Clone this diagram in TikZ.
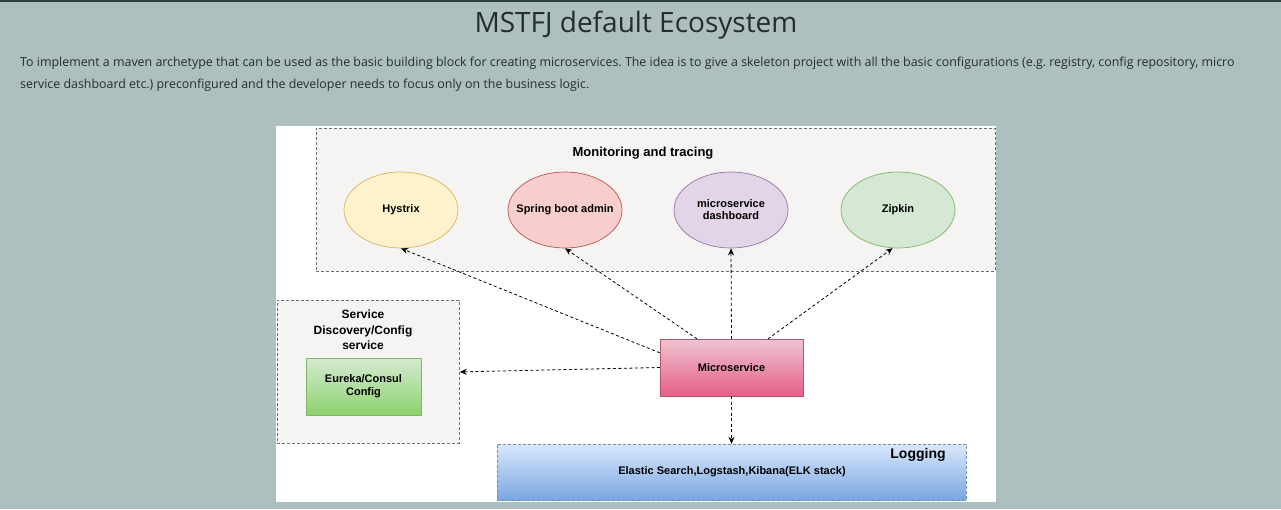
\documentclass[tikz,border=0pt]{standalone}
\usepackage{fontspec}
\setmainfont{Liberation Sans}
\newfontfamily\pagefont{Open Sans}
\usetikzlibrary{shapes.geometric,arrows.meta}

\definecolor{pagebg}{HTML}{AEBFBF}
\definecolor{topbar}{HTML}{2E3D40}
\definecolor{pagetext}{HTML}{252D2F}
\definecolor{groupfill}{HTML}{F5F4F2}
\definecolor{groupline}{HTML}{6E6E6E}
\definecolor{hysfill}{HTML}{FFF2CC}
\definecolor{hysline}{HTML}{D6B656}
\definecolor{sprfill}{HTML}{F8CECC}
\definecolor{sprline}{HTML}{B85450}
\definecolor{dashfill}{HTML}{E1D5E7}
\definecolor{dashline}{HTML}{9673A6}
\definecolor{zipfill}{HTML}{D5E8D4}
\definecolor{zipline}{HTML}{82B366}

\tikzset{
    groupbox/.style={draw=groupline, fill=groupfill, dash pattern=on 3pt off 2pt, line width=0.8pt, anchor=north west, inner sep=0pt},
    bubble/.style={ellipse, fill=#1, minimum width=114pt, minimum height=76pt, inner xsep=-12pt, line width=0.7pt, font=\bfseries\fontsize{11}{12}\selectfont, align=center},
    link/.style={draw=black, dash pattern=on 3pt off 2.5pt, line width=0.8pt, -{Stealth[length=7pt,width=6pt]}},
    headtxt/.style={font=\bfseries\fontsize{13}{15}\selectfont, align=center}
}

\begin{document}
\frenchspacing
\begin{tikzpicture}[x=1pt, y=-1pt]
    \useasboundingbox (0,0) rectangle (1281,509);
    \fill[pagebg] (0,0) rectangle (1281,509);
    \fill[topbar] (0,0) rectangle (1281,2);

    % page header
    \node[font=\pagefont\fontsize{28}{34}\selectfont, text=pagetext] (title) at (636,25) {MSTFJ default Ecosystem};
    \node[font=\pagefont\fontsize{12.4}{14}\selectfont, text=pagetext, anchor=base west, inner sep=0pt] (intro1) at (20,66) {To implement a maven archetype that can be used as the basic building block for creating microservices. The idea is to give a skeleton project with all the basic configurations (e.g. registry, config repository, micro};
    \node[font=\pagefont\fontsize{12.4}{14}\selectfont, text=pagetext, anchor=base west, inner sep=0pt] (intro2) at (20,88) {service dashboard etc.) preconfigured and the developer needs to focus only on the business logic.};

    % diagram canvas
    \fill[white] (276,126) rectangle (996,502);

    \node[groupbox, minimum width=679pt, minimum height=143pt] (mon) at (316,128) {};
    \node[headtxt] (montitle) at (643,153) {Monitoring and tracing};
    \node[bubble=hysfill, draw=hysline] (hys) at (401,210) {Hystrix};
    \node[bubble=sprfill, draw=sprline] (spr) at (565,210) {Spring boot admin};
    \node[bubble=dashfill, draw=dashline] (dash) at (731,210) {microservice\\dashboard};
    \node[bubble=zipfill, draw=zipline] (zip) at (898,210) {Zipkin};

    \node[groupbox, minimum width=182pt, minimum height=143pt] (sd) at (277,300) {};
    \node[headtxt, font=\bfseries\fontsize{12}{15.5}\selectfont] (sdtitle) at (363,330) {Service\\Discovery/Config\\service};
    \node[draw=zipline, top color={rgb,255:red,214;green,234;blue,210}, bottom color={rgb,255:red,140;green,210;blue,110}, minimum width=115pt, minimum height=57pt, font=\bfseries\fontsize{11}{13}\selectfont, align=center] (eur) at (363.5,386.5) {Eureka/Consul\\Config};

    \node[draw={rgb,255:red,184;green,84;blue,100}, top color={rgb,255:red,238;green,196;blue,210}, bottom color={rgb,255:red,230;green,95;blue,136}, minimum width=143pt, minimum height=57pt, font=\bfseries\fontsize{11}{13}\selectfont] (ms) at (731.5,367.5) {Microservice};

    \node[draw={rgb,255:red,108;green,142;blue,191}, dash pattern=on 3pt off 2pt, top color={rgb,255:red,218;green,232;blue,252}, bottom color={rgb,255:red,122;green,166;blue,224}, minimum width=469pt, minimum height=56pt, inner sep=0pt] (log) at (731.5,472) {};
    \node[font=\bfseries\fontsize{14}{16}\selectfont] (logtitle) at (918,455) {Logging};
    \node[font=\bfseries\fontsize{11}{13}\selectfont] (logtxt) at (732,472) {Elastic Search,Logstash,Kibana(ELK stack)};

    % connectors
    \draw[link] ([yshift=-14pt]ms.north west) -- (hys.south);
    \draw[link] ([xshift=-34.5pt]ms.north) -- (spr.south);
    \draw[link] (ms.north) -- (dash.south);
    \draw[link] ([xshift=36.5pt]ms.north) -- (zip.262);
    \draw[link] (ms.west) -- (sd.east);
    \draw[link] (ms.south) -- (log.north);
\end{tikzpicture}
\end{document}
